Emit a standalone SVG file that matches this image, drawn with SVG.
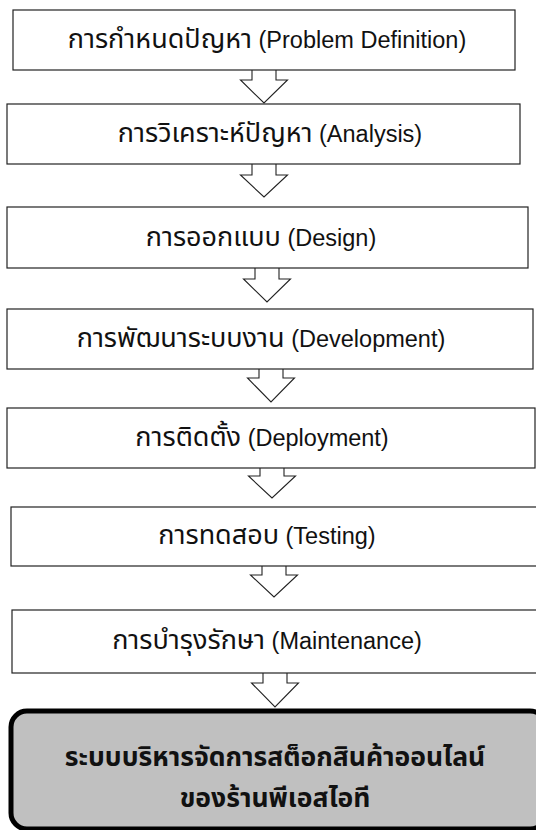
<svg xmlns="http://www.w3.org/2000/svg" width="536" height="830" viewBox="0 0 536 830">
<style>
.box{fill:#fff;stroke:#222;stroke-width:1.2}
.lbl{font-family:"Liberation Sans","Noto Sans Thai","Noto Sans",sans-serif;font-size:23.5px;fill:#111;text-anchor:middle}
.th{font-family:"Noto Sans Thai","Noto Sans",sans-serif;font-size:27px}
.arr{fill:#fff;stroke:#222;stroke-width:1.1;stroke-linejoin:miter}
.fin{fill:#c0c0c0;stroke:#000;stroke-width:5}
.fl{font-family:"Noto Sans Thai","Noto Sans","Liberation Sans",sans-serif;font-size:26.5px;font-weight:bold;fill:#111;text-anchor:middle}
</style>
<rect width="536" height="830" fill="#fff"/>
<g id="connectors">
<path class="arr" d="M252,70 V80 H240.5 L264,103 L287.5,80 H276 V70"/>
<path class="arr" d="M252,164 V175 H240.5 L264,197 L287.5,175 H276 V164"/>
<path class="arr" d="M255,268 V279 H243.5 L267,302 L290.5,279 H279 V268"/>
<path class="arr" d="M259,369 V378 H247.5 L271,402 L294.5,378 H283 V369"/>
<path class="arr" d="M260,468 V476 H248.5 L272,498 L295.5,476 H284 V468"/>
<path class="arr" d="M262,566 V575 H250.5 L274,597 L297.5,575 H286 V566"/>
<path class="arr" d="M263,673 V683 H251.5 L275,707 L298.5,683 H287 V673"/>
</g>
<g id="n1"><rect class="box" x="13" y="10" width="502" height="60"/><text class="lbl" x="267" y="48"><tspan class="th">การกำหนดปัญหา</tspan> (Problem Definition)</text></g>
<g id="n2"><rect class="box" x="7" y="104" width="513" height="60"/><text class="lbl" x="270" y="142"><tspan class="th">การวิเคราะห์ปัญหา</tspan> (Analysis)</text></g>
<g id="n3"><rect class="box" x="7" y="207" width="521" height="61"/><text class="lbl" x="261" y="246"><tspan class="th">การออกแบบ</tspan>  (Design)</text></g>
<g id="n4"><rect class="box" x="7" y="309" width="526" height="60"/><text class="lbl" x="261" y="347"><tspan class="th">การพัฒนาระบบงาน</tspan> (Development)</text></g>
<g id="n5"><rect class="box" x="7" y="408" width="528" height="60"/><text class="lbl" x="262" y="446"><tspan class="th">การติดตั้ง</tspan> (Deployment)</text></g>
<g id="n6"><rect class="box" x="11" y="507" width="530" height="59"/><text class="lbl" x="267" y="544"><tspan class="th">การทดสอบ</tspan>  (Testing)</text></g>
<g id="n7"><rect class="box" x="12" y="610" width="530" height="63"/><text class="lbl" x="267" y="649"><tspan class="th">การบำรุงรักษา</tspan>  (Maintenance)</text></g>
<g id="n8"><rect class="fin" x="11" y="711" width="535" height="118" rx="16" ry="16"/><text class="fl" x="275" y="766">ระบบบริหารจัดการสต็อกสินค้าออนไลน์</text><text class="fl" x="275" y="807">ของร้านพีเอสไอที</text></g>
</svg>
